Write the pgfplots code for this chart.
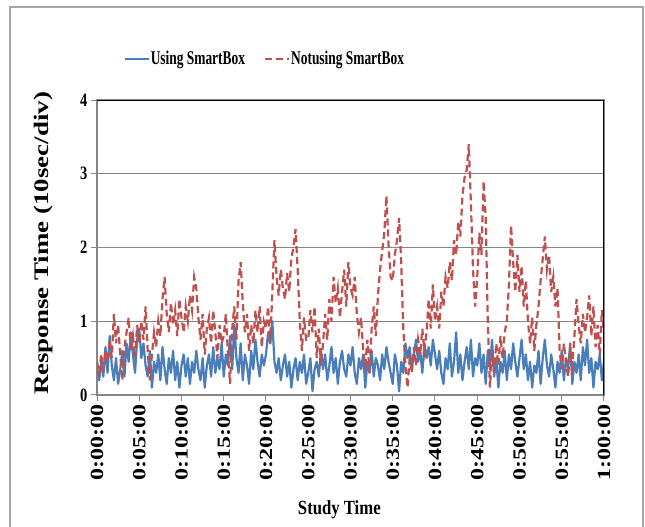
\documentclass[border=0pt]{standalone}
\usepackage{fontspec}
\setmainfont{Liberation Serif}
\usepackage{graphicx}
\usepackage{pgfplots}
\pgfplotsset{compat=1.18}
\usepackage{pgfplotstable}

\definecolor{sbblue}{RGB}{74,126,187}
\definecolor{sbred}{RGB}{192,80,77}
\definecolor{gridgray}{RGB}{134,134,134}
\definecolor{framegray}{RGB}{165,165,165}

% the source picture is stretched vertically
\newcommand\hs[1]{\scalebox{1}[1.3]{#1}}
\newcommand\vs[1]{\scalebox{1.3}[1]{#1}}

% t (min), using SmartBox, not using SmartBox
\pgfplotstableread[row sep=\\]{
t u n\\
0 0.35 0.45\\ 0.25 0.20 0.30\\ 0.5 0.45 0.55\\ 0.75 0.25 0.35\\ 1 0.65 0.60\\ 1.25 0.30 0.45\\ 1.5 0.80 0.75\\ 1.75 0.40 0.50\\ 2 0.20 1.10\\ 2.25 0.50 0.70\\
2.5 0.15 0.95\\ 2.75 0.35 0.55\\ 3 0.60 0.20\\ 3.25 0.25 0.65\\ 3.5 0.70 0.85\\ 3.75 0.45 1.05\\ 4 0.85 0.60\\ 4.25 0.55 0.80\\ 4.5 0.30 0.50\\ 4.75 0.75 0.95\\
5 0.90 0.70\\ 5.25 0.50 1.00\\ 5.5 0.70 0.75\\ 5.75 0.40 1.20\\ 6 0.25 0.60\\ 6.25 0.60 0.20\\ 6.5 0.10 0.55\\ 6.75 0.45 0.85\\ 7 0.30 0.65\\ 7.25 0.55 1.00\\
7.5 0.20 0.80\\ 7.75 0.65 1.30\\ 8 0.35 1.60\\ 8.25 0.15 1.10\\ 8.5 0.50 0.85\\ 8.75 0.30 1.25\\ 9 0.60 0.95\\ 9.25 0.20 1.15\\ 9.5 0.45 0.80\\ 9.75 0.10 1.30\\
10 0.40 1.05\\ 10.25 0.55 0.85\\ 10.5 0.25 1.20\\ 10.75 0.50 1.00\\ 11 0.15 1.35\\ 11.25 0.45 1.15\\ 11.5 0.30 1.60\\ 11.75 0.60 1.45\\ 12 0.35 1.05\\ 12.25 0.20 0.75\\
12.5 0.50 1.10\\ 12.75 0.10 0.55\\ 13 0.40 0.90\\ 13.25 0.55 1.05\\ 13.5 0.25 0.70\\ 13.75 0.65 1.15\\ 14 0.30 0.85\\ 14.25 0.50 0.50\\ 14.5 0.35 0.95\\ 14.75 0.70 0.70\\
15 0.25 0.80\\ 15.25 0.55 1.10\\ 15.5 0.40 0.55\\ 15.75 0.80 0.15\\ 16 0.35 0.90\\ 16.25 0.95 1.20\\ 16.5 0.50 0.75\\ 16.75 0.30 1.55\\ 17 0.70 1.80\\ 17.25 0.20 1.25\\
17.5 0.55 0.85\\ 17.75 0.40 1.10\\ 18 0.15 0.60\\ 18.25 0.60 0.95\\ 18.5 0.35 0.70\\ 18.75 0.75 1.15\\ 19 0.45 0.85\\ 19.25 0.25 1.20\\ 19.5 0.55 0.65\\ 19.75 0.40 1.00\\
20 0.55 0.90\\ 20.25 0.85 1.20\\ 20.5 0.70 0.70\\ 20.75 1.00 1.40\\ 21 0.45 2.10\\ 21.25 0.30 1.60\\ 21.5 0.50 1.35\\ 21.75 0.20 1.70\\ 22 0.40 1.45\\ 22.25 0.55 1.30\\
22.5 0.25 1.65\\ 22.75 0.45 1.40\\ 23 0.10 1.85\\ 23.25 0.35 2.00\\ 23.5 0.50 2.25\\ 23.75 0.20 1.70\\ 24 0.45 1.00\\ 24.25 0.30 0.60\\ 24.5 0.55 1.05\\ 24.75 0.15 0.75\\
25 0.30 0.75\\ 25.25 0.50 1.15\\ 25.5 0.05 0.85\\ 25.75 0.35 1.20\\ 26 0.45 0.50\\ 26.25 0.25 0.90\\ 26.5 0.60 0.40\\ 26.75 0.35 0.70\\ 27 0.55 1.10\\ 27.25 0.20 0.75\\
27.5 0.40 1.30\\ 27.75 0.65 1.00\\ 28 0.30 1.60\\ 28.25 0.50 1.25\\ 28.5 0.15 1.45\\ 28.75 0.45 1.05\\ 29 0.60 1.40\\ 29.25 0.35 1.70\\ 29.5 0.25 1.20\\ 29.75 0.55 1.80\\
30 0.40 1.45\\ 30.25 0.65 1.35\\ 30.5 0.30 1.60\\ 30.75 0.15 1.10\\ 31 0.50 0.85\\ 31.25 0.35 1.05\\ 31.5 0.55 0.60\\ 31.75 0.10 0.40\\ 32 0.45 0.75\\ 32.25 0.30 0.30\\
32.5 0.60 0.90\\ 32.75 0.25 1.20\\ 33 0.50 0.80\\ 33.25 0.40 1.35\\ 33.5 0.20 1.70\\ 33.75 0.55 1.95\\ 34 0.35 2.20\\ 34.25 0.65 2.70\\ 34.5 0.45 2.05\\ 34.75 0.30 1.60\\
35 0.15 1.55\\ 35.25 0.55 1.90\\ 35.5 0.40 2.10\\ 35.75 0.05 2.40\\ 36 0.45 1.80\\ 36.25 0.30 0.90\\ 36.5 0.70 0.40\\ 36.75 0.50 0.10\\ 37 0.65 0.50\\ 37.25 0.35 0.30\\
37.5 0.55 0.65\\ 37.75 0.75 0.40\\ 38 0.45 0.75\\ 38.25 0.60 0.55\\ 38.5 0.30 0.90\\ 38.75 0.70 0.60\\ 39 0.50 0.85\\ 39.25 0.65 1.30\\ 39.5 0.40 0.90\\ 39.75 0.75 1.50\\
40 0.55 1.00\\ 40.25 0.35 1.20\\ 40.5 0.60 0.90\\ 40.75 0.30 1.40\\ 41 0.15 1.20\\ 41.25 0.50 1.60\\ 41.5 0.35 1.45\\ 41.75 0.70 1.80\\ 42 0.25 1.55\\ 42.25 0.45 2.10\\
42.5 0.85 1.90\\ 42.75 0.30 2.35\\ 43 0.55 2.15\\ 43.25 0.20 2.70\\ 43.5 0.45 2.95\\ 43.75 0.65 3.05\\ 44 0.35 3.40\\ 44.25 0.75 2.60\\ 44.5 0.25 1.70\\ 44.75 0.50 1.20\\
45 0.40 1.60\\ 45.25 0.70 2.20\\ 45.5 0.30 1.90\\ 45.75 0.55 2.90\\ 46 0.15 2.40\\ 46.25 0.60 1.00\\ 46.5 0.35 0.10\\ 46.75 0.75 0.55\\ 47 0.25 0.30\\ 47.25 0.50 0.70\\
47.5 0.10 0.40\\ 47.75 0.45 0.80\\ 48 0.30 0.50\\ 48.25 0.60 0.85\\ 48.5 0.20 1.00\\ 48.75 0.55 1.50\\ 49 0.35 2.30\\ 49.25 0.70 1.80\\ 49.5 0.45 1.40\\ 49.75 0.25 1.90\\
50 0.50 1.40\\ 50.25 0.75 1.75\\ 50.5 0.35 1.20\\ 50.75 0.55 1.55\\ 51 0.20 1.00\\ 51.25 0.45 0.70\\ 51.5 0.10 1.05\\ 51.75 0.40 0.60\\ 52 0.30 0.95\\ 52.25 0.60 1.20\\
52.5 0.15 1.55\\ 52.75 0.50 1.85\\ 53 0.75 2.15\\ 53.25 0.40 1.70\\ 53.5 0.25 1.90\\ 53.75 0.55 1.40\\ 54 0.35 1.60\\ 54.25 0.10 1.20\\ 54.5 0.45 1.45\\ 54.75 0.30 0.60\\
55 0.60 0.35\\ 55.25 0.20 0.70\\ 55.5 0.50 0.45\\ 55.75 0.35 0.25\\ 56 0.70 0.60\\ 56.25 0.15 0.40\\ 56.5 0.45 0.80\\ 56.75 0.30 1.30\\ 57 0.55 0.95\\ 57.25 0.20 0.70\\
57.5 0.65 1.10\\ 57.75 0.40 0.85\\ 58 0.75 1.05\\ 58.25 0.30 1.35\\ 58.5 0.50 0.80\\ 58.75 0.10 1.20\\ 59 0.45 0.65\\ 59.25 0.35 0.95\\ 59.5 0.55 0.55\\ 59.75 0.20 1.15\\
60 0.45 0.85\\
}\resp

\begin{document}
\begin{tikzpicture}[x=1pt,y=1pt]
\useasboundingbox (0,0) rectangle (645,527);
\draw[framegray, line width=1.3pt] (10,-10) -- (10,520) -- (643,520) -- (643,-10);
\begin{axis}[
    at={(97pt,132pt)}, anchor=south west,
    scale only axis,
    width=507pt, height=295pt,
    xmin=0, xmax=60, ymin=0, ymax=4,
    xtick={0,5,...,60},
    xticklabels={\vs{0:00:00},\vs{0:05:00},\vs{0:10:00},\vs{0:15:00},\vs{0:20:00},\vs{0:25:00},\vs{0:30:00},\vs{0:35:00},\vs{0:40:00},\vs{0:45:00},\vs{0:50:00},\vs{0:55:00},\vs{1:00:00}},
    ytick={0,1,2,3,4},
    yticklabels={\hs{0},\hs{1},\hs{2},\hs{3},\hs{4}},
    /pgf/number format/assume math mode=true,
    ymajorgrids,
    major grid style={gridgray, line width=1.1pt},
    axis line style={gridgray, line width=1.1pt},
    tick align=outside,
    major tick length=6pt,
    tick style={gridgray, line width=1pt},
    xtick pos=bottom, ytick pos=left,
    x tick label style={rotate=90, anchor=east, font=\fontsize{18.5}{20}\selectfont\bfseries},
    y tick label style={font=\fontsize{14.5}{16}\selectfont\bfseries},
    xlabel={\scalebox{1}[1.2]{Study Time}},
    xlabel style={at={(axis description cs:0.478,-0.39)}, anchor=center, font=\fontsize{16.7}{18}\selectfont\bfseries},
    ylabel={\vs{Response Time (10sec/div)}},
    ylabel style={at={(axis description cs:-0.1055,0.514)}, anchor=center, font=\fontsize{20.7}{22}\selectfont\bfseries},
    legend style={at={(axis description cs:0.33,1.139)}, anchor=center,
        draw=none, fill=none, legend columns=2,
        font=\fontsize{13.4}{15}\selectfont\bfseries,
        /tikz/every even column/.append style={column sep=18pt},
        nodes={inner sep=1pt}},
    legend image code/.code={\draw[#1] (0pt,0pt) -- (24pt,0pt);},
]
\addplot[sbblue, line width=2.2pt, line join=round] table[x=t, y=u] {\resp};
\addlegendentry{\scalebox{1}[1.45]{Using SmartBox}}
\addplot[sbred, line width=2.2pt, dash pattern=on 7pt off 4pt] table[x=t, y=n] {\resp};
\addlegendentry{\scalebox{1}[1.45]{Notusing SmartBox}}
\draw[black, line width=1.1pt] (rel axis cs:0,1) -- (rel axis cs:1,1) -- (rel axis cs:1,0);
\end{axis}
\end{tikzpicture}
\end{document}
